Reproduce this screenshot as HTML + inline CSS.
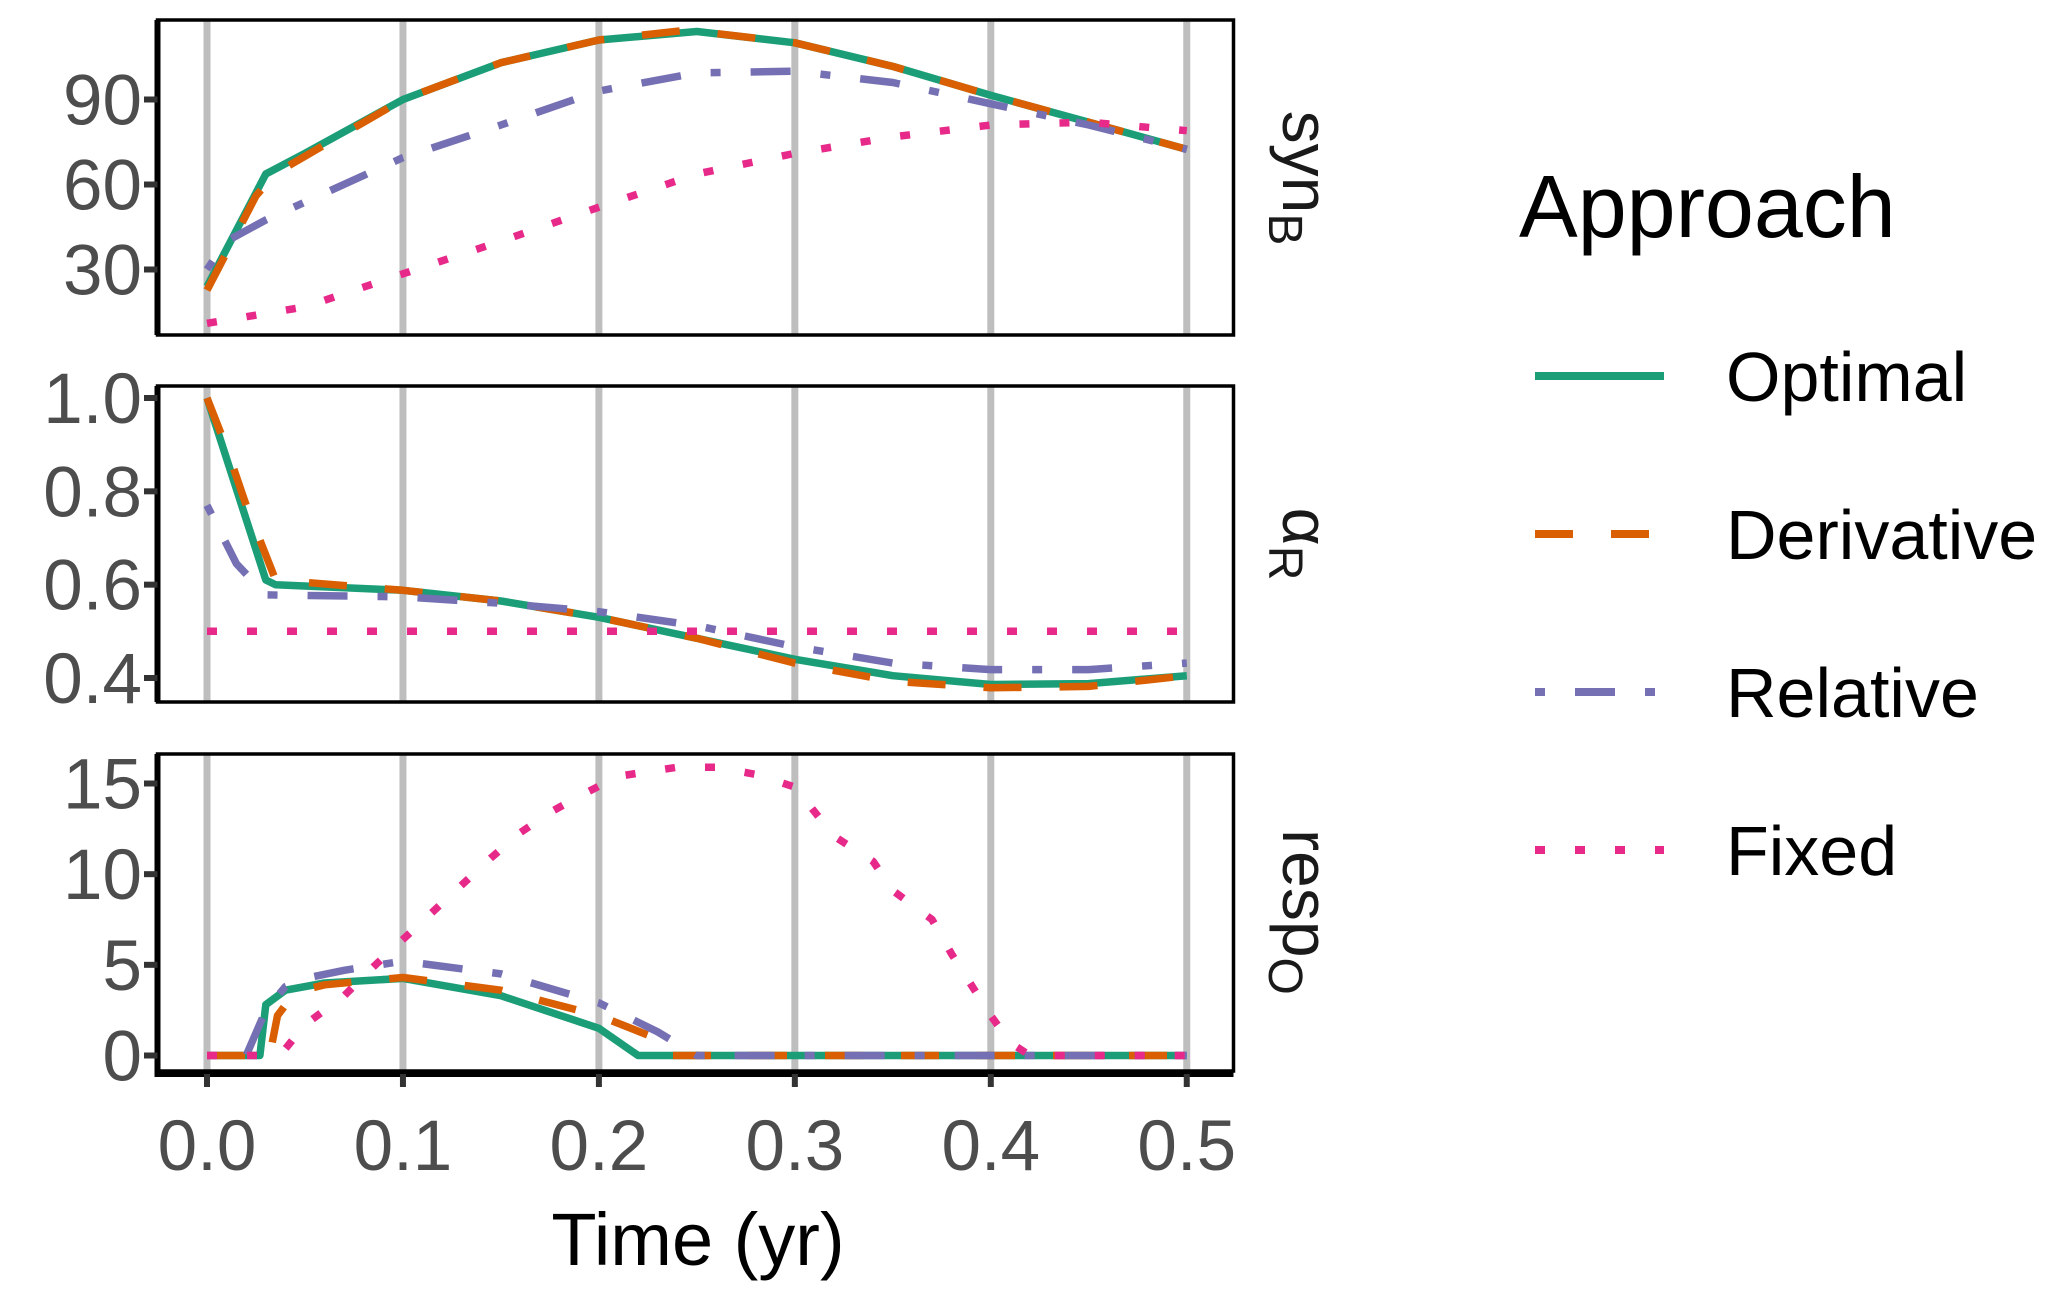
<!DOCTYPE html>
<html><head><meta charset="utf-8"><style>
html,body{margin:0;padding:0;background:#fff;}
svg{display:block;font-family:"Liberation Sans",Arial,sans-serif;}
</style></head><body>
<svg id="chart" width="2067" height="1302" viewBox="0 0 2067 1302" xmlns="http://www.w3.org/2000/svg"></svg>
<script>
const xTicks=[0,0.1,0.2,0.3,0.4,0.5];
const xTickLabels=["0.0","0.1","0.2","0.3","0.4","0.5"];
const synTicks=[30,60,90];
const alphaTicks=[0.4,0.6,0.8,1.0];
const alphaTickLabels=["0.4","0.6","0.8","1.0"];
const respTicks=[0,5,10,15];
const seriesNames=["Optimal","Derivative","Relative","Fixed"];

const synOptT=[0,0.03,0.05,0.1,0.15,0.2,0.25,0.3,0.35,0.4,0.45,0.5];
const synOptV=[24,63.7,71,90,103,111,114,110,101.7,91.5,82,72.4];
const synDerT=[0,0.025,0.035,0.05,0.1,0.15,0.2,0.245,0.3,0.35,0.4,0.45,0.5];
const synDerV=[22.7,56,64,70,90,103,111,114.5,110,101.7,91.5,82,72.4];
const synRelT=[0,0.01,0.03,0.1,0.15,0.2,0.25,0.3,0.35,0.4,0.45,0.5];
const synRelV=[30,40,47.5,69.5,81,93,99.4,100,96,88.5,81,72.4];
const synFixT=[0,0.05,0.1,0.15,0.2,0.25,0.3,0.35,0.4,0.45,0.5];
const synFixV=[11,16.8,28.5,40,52,63.7,71,76.8,81,82,79];

const aOptT=[0,0.03,0.035,0.1,0.15,0.2,0.25,0.3,0.35,0.4,0.45,0.5];
const aOptV=[1.0,0.61,0.60,0.588,0.565,0.53,0.485,0.44,0.405,0.386,0.388,0.405];
const aDerT=[0,0.01,0.02,0.035,0.1,0.15,0.2,0.25,0.3,0.35,0.4,0.45,0.5];
const aDerV=[1.0,0.893,0.77,0.61,0.588,0.565,0.53,0.485,0.432,0.393,0.379,0.382,0.405];
const aRelT=[0,0.015,0.03,0.1,0.15,0.2,0.25,0.3,0.35,0.4,0.45,0.5];
const aRelV=[0.77,0.645,0.578,0.574,0.56,0.542,0.512,0.467,0.432,0.418,0.418,0.432];
const aFixT=[0,0.5];
const aFixV=[0.5,0.5];

const rOptT=[0,0.027,0.03,0.04,0.06,0.1,0.15,0.2,0.22,0.5];
const rOptV=[0,0,2.8,3.6,4.0,4.25,3.3,1.5,0,0];
const rDerT=[0,0.032,0.036,0.045,0.06,0.1,0.15,0.2,0.228,0.232,0.5];
const rDerV=[0,0,2.2,3.5,3.9,4.3,3.6,2.2,1.0,0,0];
const rRelT=[0,0.02,0.03,0.04,0.05,0.07,0.1,0.15,0.2,0.23,0.25,0.5];
const rRelV=[0,0,2.5,3.8,4.25,4.7,5.2,4.5,2.9,1.3,0,0];
const rFixT=[0,0.03,0.04,0.05,0.07,0.085,0.1,0.115,0.13,0.145,0.16,0.175,0.19,0.21,0.24,0.26,0.28,0.3,0.32,0.34,0.35,0.37,0.38,0.39,0.4,0.41,0.42,0.5];
const rFixV=[0,0,0.37,1.7,3.3,4.9,6.4,7.9,9.4,10.9,12.3,13.4,14.3,15.4,15.9,15.9,15.5,14.8,12.1,10.7,9.1,7.5,5.6,3.9,2.2,0.7,0,0];

const NS="http://www.w3.org/2000/svg";
const svg=document.getElementById('chart');
function mk(tag,attrs,parent){const e=document.createElementNS(NS,tag);for(const k in attrs)e.setAttribute(k,attrs[k]);(parent||svg).appendChild(e);return e;}
const X0=157.5,X1=1233.5;
function xs(t){return 207+t*1959.5;}
const panels=[
 {name:'synb',top:20,bot:335,y:v=>354.5-v*85/30,ticks:synTicks,labels:synTicks.map(String),
  data:[[synOptT,synOptV],[synDerT,synDerV],[synRelT,synRelV],[synFixT,synFixV]]},
 {name:'alphar',top:386,bot:702,y:v=>398+(1.0-v)*280/0.6,ticks:alphaTicks,labels:alphaTickLabels,
  data:[[aOptT,aOptV],[aDerT,aDerV],[aRelT,aRelV],[aFixT,aFixV]]},
 {name:'respo',top:754,bot:1071,y:v=>1055.5-v*272/15,ticks:respTicks,labels:respTicks.map(String),
  data:[[rOptT,rOptV],[rDerT,rDerV],[rRelT,rRelV],[rFixT,rFixV]]}
];
const colors=['#1b9e77','#d95f02','#7570b3','#e7298a'];
const dashes=['none','38 38','10 30 40 30','10 30'];
const snames=['optimal','derivative','relative','fixed'];
panels.forEach((p,pi)=>{
  const g=mk('g',{});
  
  
  const cid='clip'+pi;
  const cp=mk('clipPath',{id:cid},g);
  mk('rect',{x:X0,y:p.top,width:X1-X0,height:p.bot-p.top},cp);
  xTicks.forEach(t=>{
    const l=mk('line',{x1:xs(t),x2:xs(t),y1:p.top,y2:p.bot,stroke:'#bebebe','stroke-width':7},g);
    
    
  });
  p.data.forEach((d,si)=>{
    const pts=d[0].map((t,i)=>xs(t).toFixed(1)+','+p.y(d[1][i]).toFixed(1)).join(' ');
    const pl=mk('polyline',{points:pts,fill:'none',stroke:colors[si],'stroke-width':7.5,'stroke-linejoin':'round','clip-path':'url(#'+cid+')'},g);
    if(dashes[si]!=='none')pl.setAttribute('stroke-dasharray',dashes[si]);
    
    
  });
  const r=mk('rect',{x:X0,y:p.top,width:X1-X0,height:p.bot-p.top,fill:'none',stroke:'#000','stroke-width':3.5},g);
  
  
  const al=mk('line',{x1:X0,x2:X0,y1:p.top,y2:p.bot,stroke:'#000','stroke-width':6},g);
  
  
  p.ticks.forEach((v,i)=>{
    const y=p.y(v);
    const tk=mk('line',{x1:144,x2:X0,y1:y,y2:y,stroke:'#333','stroke-width':6},g);
    
    
    const tx=mk('text',{x:142,y:y+25,'text-anchor':'end','font-size':71,fill:'#4d4d4d'},g);
    tx.textContent=p.labels[i];
    
    
  });
});
const bx=mk('line',{x1:X0-3,x2:X1,y1:1074,y2:1074,stroke:'#000','stroke-width':6});


xTicks.forEach((t,i)=>{
  const tk=mk('line',{x1:xs(t),x2:xs(t),y1:1074,y2:1087,stroke:'#333','stroke-width':6});
  
  
  const tx=mk('text',{x:xs(t),y:1170,'text-anchor':'middle','font-size':71,fill:'#4d4d4d'});
  tx.textContent=xTickLabels[i];
  
  
});
const xt=mk('text',{x:698,y:1265,'text-anchor':'middle','font-size':74,fill:'#000'});
xt.textContent='Time (yr)';


const strips=[['syn','B',178],['α','R',544],['resp','O',912]];
strips.forEach((s,i)=>{
  const t=mk('text',{transform:'translate(1283,'+s[2]+') rotate(90)','text-anchor':'middle','font-size':66,fill:'#1a1a1a'});
  const a=mk('tspan',{},t);a.textContent=s[0];
  const b=mk('tspan',{dy:14,'font-size':48},t);b.textContent=s[1];
  
  
});
const lt=mk('text',{x:1519,y:237,'font-size':88,fill:'#000'});
lt.textContent='Approach';


seriesNames.forEach((n,i)=>{
  const y=376+i*158;
  const g=mk('g',{});
  
  
  const l=mk('line',{x1:1535,x2:1664,y1:y,y2:y,stroke:colors[i],'stroke-width':8},g);
  if(dashes[i]!=='none')l.setAttribute('stroke-dasharray',dashes[i]);
  const t=mk('text',{x:1726,y:y+25,'font-size':70,fill:'#000'},g);
  t.textContent=n;
});
</script>
</body></html>
